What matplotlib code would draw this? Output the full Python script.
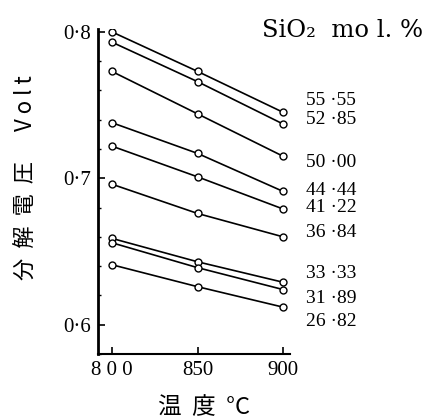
import matplotlib
matplotlib.use("Agg")
import matplotlib.pyplot as plt
from matplotlib.ticker import MultipleLocator

temps = [800, 850, 900]
sio2_labels = ["55 ·55", "52 ·85", "50 ·00", "44 ·44", "41 ·22", "36 ·84", "33 ·33", "31 ·89", "26 ·82"]
voltages = {
    "55 ·55": [0.800, 0.773, 0.745],
    "52 ·85": [0.793, 0.766, 0.737],
    "50 ·00": [0.773, 0.744, 0.715],
    "44 ·44": [0.738, 0.717, 0.691],
    "41 ·22": [0.722, 0.701, 0.679],
    "36 ·84": [0.696, 0.676, 0.660],
    "33 ·33": [0.659, 0.643, 0.629],
    "31 ·89": [0.656, 0.639, 0.624],
    "26 ·82": [0.641, 0.626, 0.612],
}
label_y = [0.753, 0.740, 0.711, 0.692, 0.680, 0.663, 0.635, 0.618, 0.602]
yticks = [0.6, 0.7, 0.8]
ytick_labels = ["0·6", "0·7", "0·8"]
xticks = [800, 850, 900]
xtick_labels = ["8 0 0", "850", "900"]

serif = ["Liberation Serif", "DejaVu Serif"]
cjk = ["Noto Sans CJK JP", "DejaVu Sans"]

fig = plt.figure(figsize=(4.48, 4.19), dpi=100)
ax = fig.add_axes([0.219, 0.155, 0.4286, 0.776])

for name in sio2_labels:
    ax.plot(temps, voltages[name], color="black", lw=1.2,
            marker="o", ms=5, mfc="white", mec="black", mew=1.0)

ax.set_xlim(792, 904)
ax.set_ylim(0.580, 0.802)

for s in ["top", "right"]:
    ax.spines[s].set_visible(False)
ax.spines["left"].set_linewidth(2.0)
ax.spines["bottom"].set_linewidth(1.5)

ax.set_yticks(yticks)
ax.set_yticklabels(ytick_labels, fontfamily=serif, fontsize=15)
ax.yaxis.set_minor_locator(MultipleLocator(0.02))
ax.set_xticks(xticks)
ax.set_xticklabels(xtick_labels, fontfamily=serif, fontsize=15)
ax.tick_params(axis="both", which="major", direction="in", length=5, width=1.2, pad=5)
ax.tick_params(axis="y", which="minor", direction="in", length=2.5, width=1.0)

for name, ly in zip(sio2_labels, label_y):
    ax.text(913.5, ly, name, fontfamily=serif, fontsize=14, ha="left", va="center",
            clip_on=False)

fig.text(0.585, 0.928, "SiO₂  mo l. %", fontfamily=["DejaVu Serif"], fontsize=17.5,
         ha="left", va="center")
fig.text(0.056, 0.577, "分  解  電  圧      V o l t", fontfamily=cjk, fontsize=16,
         rotation=90, ha="center", va="center")
fig.text(0.455, 0.028, "温  度  °C", fontfamily=cjk, fontsize=17, ha="center", va="center")

fig.savefig("out.png", dpi=100, facecolor="white")
